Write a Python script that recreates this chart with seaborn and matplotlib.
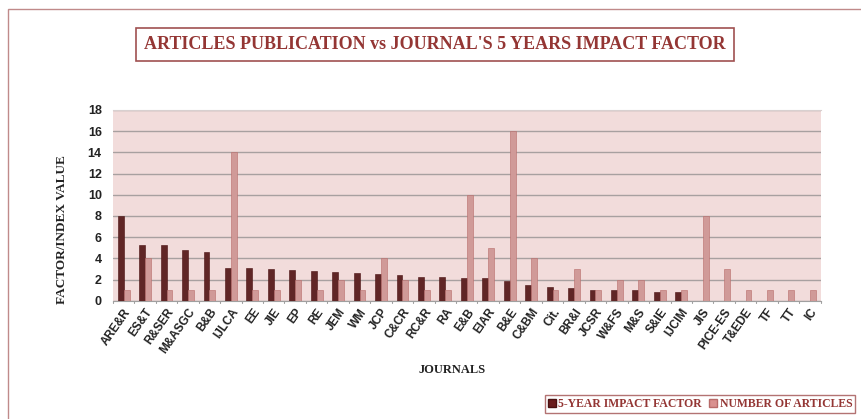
import matplotlib
matplotlib.use("Agg")
import matplotlib.pyplot as plt
from matplotlib.patches import Rectangle, Patch
import seaborn as sns
import pandas as pd
import numpy as np

journals = ["ARE&R", "ES&T", "R&SER", "M&ASGC", "B&B", "IJLCA", "EE", "JIE", "EP", "RE",
            "JEM", "WM", "JCP", "C&CR", "RC&R", "RA", "E&B", "EIAR", "B&E", "C&BM",
            "Cit.", "BR&I", "JCSR", "W&FS", "M&S", "S&IE", "IJCIM", "JIS", "PICE-ES", "T&EDE",
            "TF", "TT", "IC"]
impact_factor = [8.0, 5.3, 5.3, 4.8, 4.6, 3.1, 3.1, 3.0, 2.9, 2.8,
                 2.7, 2.6, 2.5, 2.4, 2.2, 2.2, 2.1, 2.1, 1.9, 1.5,
                 1.3, 1.2, 1.0, 1.0, 1.0, 0.8, 0.8, 0.0, 0.0, 0.0,
                 0.0, 0.0, 0.0]
num_articles = [1, 4, 1, 1, 1, 14, 1, 1, 2, 1,
                2, 1, 4, 2, 1, 1, 10, 5, 16, 4,
                1, 3, 1, 2, 2, 1, 1, 8, 3, 1,
                1, 1, 1]
series_names = ["5-YEAR IMPACT FACTOR", "NUMBER OF ARTICLES"]
y_ticks = list(range(0, 19, 2))

df = pd.DataFrame({
    "Journal": journals * 2,
    "Value": impact_factor + num_articles,
    "Series": [series_names[0]] * len(journals) + [series_names[1]] * len(journals),
})

sns.set_style("white")
fig = plt.figure(figsize=(8.62, 4.19), dpi=100)
ax = fig.add_axes([0.131, 0.2823, 0.821, 0.4552])

palette = {series_names[0]: "#6a1c1c", series_names[1]: "#d9918f"}
edges = {series_names[0]: "#4a1010", series_names[1]: "#b86b69"}
sns.barplot(data=df, x="Journal", y="Value", hue="Series", palette=palette,
            width=0.55, gap=0.0, ax=ax, legend=False, zorder=3,
            edgecolor="#4a1010", linewidth=0.4)
n = len(journals)
for i, bar in enumerate(ax.patches[:2 * n]):
    if i >= n:
        bar.set_edgecolor(edges[series_names[1]])

ax.set_facecolor("#f2dcdb")
ax.set_ylim(0, 18)
ax.set_xlim(-0.5, n - 0.5)
ax.set_yticks(y_ticks)
ax.set_yticklabels([str(v) for v in y_ticks], fontsize=9, fontweight="bold",
                   family="Liberation Sans", color="#222222")
ax.yaxis.grid(True, color="#a8a0a0", linewidth=1.0, zorder=0)
ax.set_axisbelow(True)
ax.set_xticks(range(n))
ax.set_xticklabels(journals, rotation=55, ha="right", va="top", rotation_mode="anchor",
                   fontsize=8.5, fontweight="bold", family="Liberation Sans", color="#222222")
ax.tick_params(axis="x", length=0, pad=4)
ax.tick_params(axis="y", length=0, pad=8)
for x in np.arange(-0.5, n, 1.0):
    ax.plot([x, x], [0, -0.25], color="#a0a0a0", lw=0.8, clip_on=False, zorder=4)
for side in ["left", "right"]:
    ax.spines[side].set_visible(False)
ax.spines["bottom"].set_color("#a0a0a0")
ax.spines["top"].set_color("#d8d0d0")
ax.set_xlabel("")
ax.set_ylabel("")

fig.text(0.072, 0.451, "FACTOR/INDEX VALUE", rotation=90, ha="center", va="center",
         fontsize=9.5, fontweight="bold", family="Liberation Serif", color="#222222")
fig.text(0.524, 0.117, "JOURNALS", ha="center", va="center",
         fontsize=9, fontweight="bold", family="Liberation Serif", color="#222222")

fig.text(0.505, 0.893, "ARTICLES PUBLICATION vs JOURNAL'S 5 YEARS IMPACT FACTOR",
         ha="center", va="center", fontsize=13, fontweight="bold",
         family="Liberation Serif", color="#943634",
         bbox=dict(boxstyle="square,pad=0.45", facecolor="white",
                   edgecolor="#a05050", linewidth=1.2))

# outer frame
fig.patches.append(Rectangle((8 / 862, -0.1), 1.2, 1 - 9 / 419 + 0.1,
                             transform=fig.transFigure, fill=False,
                             edgecolor="#c08a8a", linewidth=1.0))

handles = [Patch(facecolor=palette[s], edgecolor=edges[s]) for s in series_names]
leg = fig.legend(handles, series_names, loc="center right",
                 bbox_to_anchor=(0.999, 1 - 404 / 419), ncol=2,
                 frameon=True, fancybox=False, handlelength=0.7, handleheight=0.7,
                 handletextpad=0.2, columnspacing=0.6, borderpad=0.25,
                 prop=dict(family="Liberation Serif", weight="bold", size=8.5))
leg.get_frame().set_edgecolor("#a05050")
leg.get_frame().set_linewidth(1.0)
for t in leg.get_texts():
    t.set_color("#943634")

fig.savefig("out.png", dpi=100)
